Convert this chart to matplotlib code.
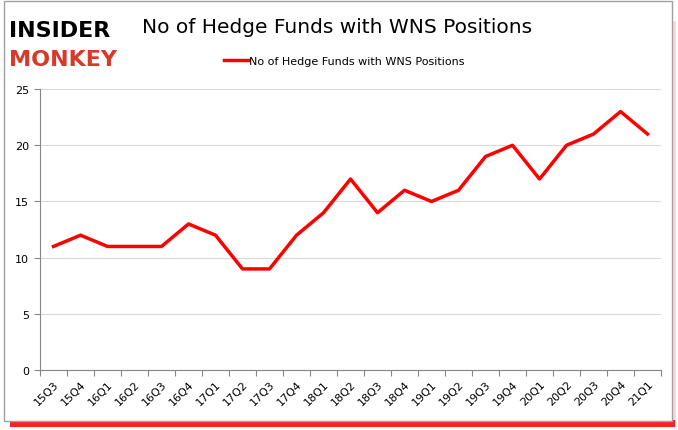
import matplotlib.pyplot as plt
from matplotlib.patches import Rectangle

quarters = ['15Q3', '15Q4', '16Q1', '16Q2', '16Q3', '16Q4', '17Q1', '17Q2', '17Q3',
            '17Q4', '18Q1', '18Q2', '18Q3', '18Q4', '19Q1', '19Q2', '19Q3', '19Q4',
            '20Q1', '20Q2', '20Q3', '20Q4', '21Q1']
funds = [11, 12, 11, 11, 11, 13, 12, 9, 9, 12, 14, 17, 14, 16, 15, 16, 19, 20,
         17, 20, 21, 23, 21]
series_name = 'No of Hedge Funds with WNS Positions'

fig = plt.figure(figsize=(6.78, 4.31), dpi=100)
ax = fig.add_axes([0.059, 0.139, 0.916, 0.652])

x = list(range(len(quarters)))
ax.plot(x, funds, color='#ff0000', linewidth=2.5, label=series_name)

ax.set_xlim(-0.5, len(quarters) - 0.5)
ax.set_ylim(0, 25)
ax.set_yticks(range(0, 26, 5))
ax.grid(axis='y', color='#d9d9d9', linewidth=0.8)
ax.set_axisbelow(True)

# ticks sit between categories, labels at the centres
ax.set_xticks([i - 0.5 for i in range(len(quarters) + 1)])
ax.set_xticklabels([])
ax.set_xticks(x, minor=True)
ax.set_xticklabels(quarters, minor=True, rotation=45, ha='right', rotation_mode='anchor', fontsize=8)
ax.tick_params(axis='x', which='major', length=4, color='#868686')
ax.tick_params(axis='x', which='minor', length=0, pad=6)
ax.tick_params(axis='y', length=4, color='#868686', labelsize=8, pad=4)

for side in ['top', 'right']:
    ax.spines[side].set_visible(False)
ax.spines['left'].set_color('#868686')
ax.spines['bottom'].set_color('#868686')

fig.text(0.497, 0.937, series_name, ha='center', va='center', fontsize=14.5)
ax.legend(loc='center', bbox_to_anchor=(0.49, 1.1), frameon=False, fontsize=8,
          handlelength=2.2, handletextpad=0.1)

# logo
fig.text(0.014, 0.927, 'INSIDER', fontsize=16, fontweight='bold', color='black', va='center')
fig.text(0.014, 0.86, 'MONKEY', fontsize=16, fontweight='bold', color='#d83a2a', va='center')

# frame with red shadow (strong along the bottom, faint on the right)
fig.patches.append(Rectangle((0.991, 0.01), 0.006, 0.94, transform=fig.transFigure,
                             facecolor='#ffd6d6', edgecolor='none', zorder=-2))
fig.patches.append(Rectangle((0.015, 0.007), 0.981, 0.016, transform=fig.transFigure,
                             facecolor='#ff2020', edgecolor='none', zorder=-2))
fig.patches.append(Rectangle((0.006, 0.021), 0.985, 0.974, transform=fig.transFigure,
                             facecolor='white', edgecolor='#a0a0a0', linewidth=1, zorder=-1))

fig.savefig('out.png', dpi=100)
